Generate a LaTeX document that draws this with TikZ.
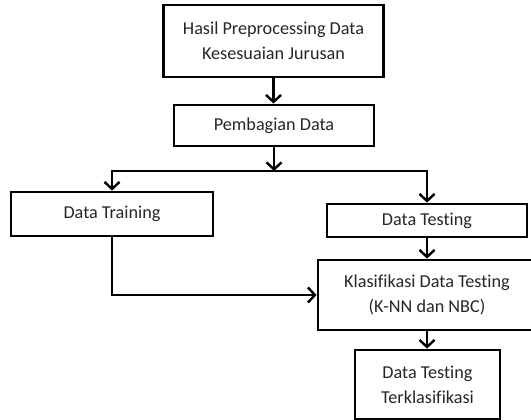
\documentclass[tikz,border=0pt]{standalone}
\usepackage{fontspec}
\setmainfont{Carlito}[Ligatures=NoCommon]
\usetikzlibrary{arrows.meta}
\begin{document}
\begin{tikzpicture}[x=1pt,y=-1pt,
  box/.style={draw, line width=2.8pt, inner sep=0pt, align=center, text=black!85, font=\fontsize{18.2}{25}\selectfont},
  arr/.style={line width=2.4pt, -{Straight Barb[length=7pt,width=15pt]}}]
\useasboundingbox (0,0) rectangle (531,420);
\clip (0,0) rectangle (531,420);
\node[box, minimum width=220pt, minimum height=72pt] (b1) at (273.5,41) {Hasil Preprocessing Data\\Kesesuaian Jurusan};
\node[box, minimum width=200pt, minimum height=41pt] (b2) at (274,125.5) {Pembagian Data};
\node[box, minimum width=202pt, minimum height=44pt] (train) at (112,214) {Data Training};
\node[box, minimum width=200pt, minimum height=33pt] (test) at (427,220.5) {Data Testing};
\node[box, minimum width=218pt, minimum height=70pt] (klas) at (427,295) {Klasifikasi Data Testing\\(K-NN dan NBC)};
\node[box, minimum width=145pt, minimum height=69pt] (fin) at (427.5,384.5) {Data Testing\\Terklasifikasi};
\coordinate (hl) at (274,171);
\draw[arr] (b1.south) -- (b1.south |- b2.north);
\draw[arr] (b2.south) -- (hl);
\draw[arr] (hl) -| (train.north);
\draw[arr] (hl) -| (test.north);
\draw[arr] (test.south) -- (klas.north);
\draw[arr] (train.south) |- (klas.west);
\draw[arr] (klas.south) -- (klas.south |- fin.north);
\end{tikzpicture}
\end{document}
